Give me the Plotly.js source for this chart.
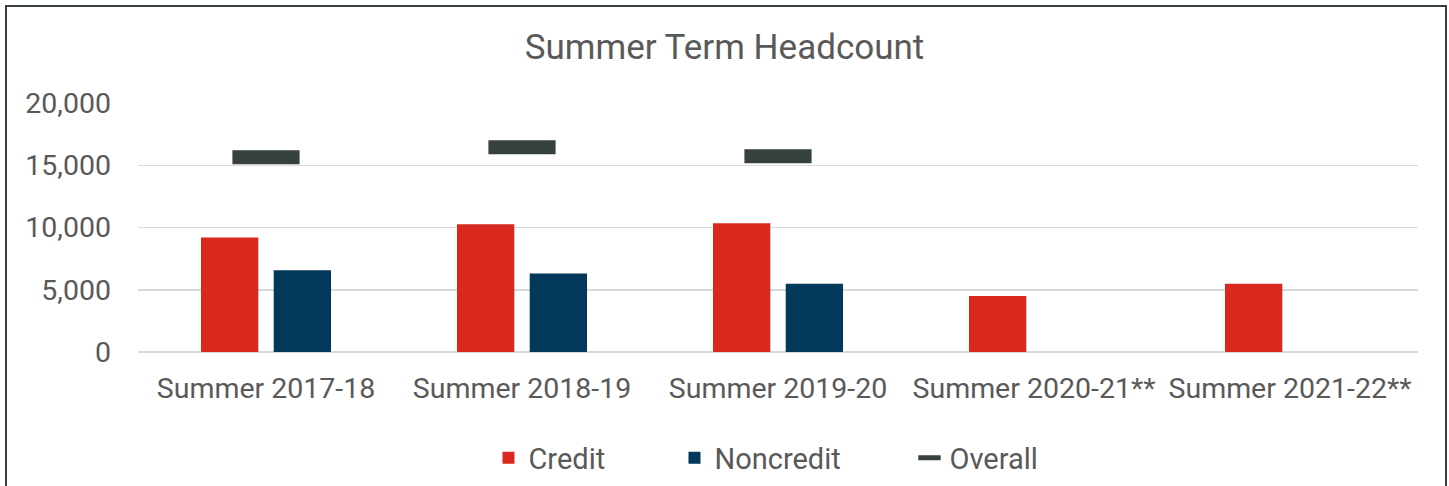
<!DOCTYPE html>
<html>
<head>
<meta charset="utf-8">
<script src="https://cdn.plot.ly/plotly-3.0.1.min.js"></script>
<style>
  html, body { margin: 0; padding: 0; background: #ffffff; }
  #chart { width: 1449px; height: 486px; position: absolute; left: 0; top: 0; }
  #frame { position: absolute; left: 5px; top: 5px; width: 1442px; height: 500px;
           border: 2px solid #36413F; box-sizing: border-box; pointer-events: none; }
</style>
</head>
<body>
<div id="chart"></div>
<div id="frame"></div>
<script>
const categories = ["Summer 2017-18", "Summer 2018-19", "Summer 2019-20", "Summer 2020-21**", "Summer 2021-22**"];
const creditValues = [9190, 10260, 10340, 4500, 5490];
const noncreditValues = [6560, 6300, 5490, null, null];
const overallValues = [15650, 16440, 15720, null, null];
const yTickValues = [0, 5000, 10000, 15000, 20000];
const yTickLabels = ["0", "5,000", "10,000", "15,000", "20,000"];

const textColor = "#595959";

const traces = [
  {
    type: "bar", name: "Credit", x: categories, y: creditValues,
    marker: { color: "#D9281E" }, legendwidth: 141, hoverinfo: "y+name"
  },
  {
    type: "bar", name: "Noncredit", x: categories, y: noncreditValues,
    marker: { color: "#02395A" }, legendwidth: 190, hoverinfo: "y+name"
  },
  {
    type: "scatter", mode: "markers", name: "Overall", x: categories, y: overallValues,
    marker: { symbol: "line-ew", size: 48, color: "#36413F", line: { color: "#36413F", width: 14 } },
    legendwidth: 90, hoverinfo: "y+name"
  }
];

const layout = {
  width: 1449, height: 486,
  margin: { l: 138, r: 31, t: 103, b: 134 },
  paper_bgcolor: "#ffffff", plot_bgcolor: "#ffffff",
  font: { family: "Roboto, sans-serif", color: textColor },
  title: {
    text: "Summer Term Headcount",
    font: { family: "Roboto, sans-serif", size: 35, color: textColor },
    x: 0.5, xanchor: "center", xref: "container",
    y: 1 - 47 / 486, yanchor: "middle", yref: "container"
  },
  barmode: "group",
  bargap: 0.432,
  bargroupgap: 0.212,
  xaxis: {
    type: "category",
    tickangle: 0,
    tickfont: { size: 28.5, color: textColor },
    showgrid: false, showline: false, zeroline: false,
    ticks: "", ticklabelstandoff: 16
  },
  yaxis: {
    range: [0, 20000],
    tickvals: yTickValues, ticktext: yTickLabels,
    tickfont: { size: 28.5, color: textColor },
    showgrid: true, gridcolor: "#D9D9D9", gridwidth: 1.5,
    zeroline: true, zerolinecolor: "#D9D9D9", zerolinewidth: 1.5,
    showline: false, ticks: "", ticklabelstandoff: 26,
    fixedrange: true
  },
  showlegend: true,
  legend: {
    orientation: "h",
    x: 0.491, xanchor: "center",
    y: 1 - 458 / 486, yanchor: "middle", yref: "container",
    font: { size: 29, color: textColor },
    traceorder: "normal"
  }
};

Plotly.newPlot("chart", traces, layout, { displayModeBar: false, staticPlot: true });
</script>
</body>
</html>
